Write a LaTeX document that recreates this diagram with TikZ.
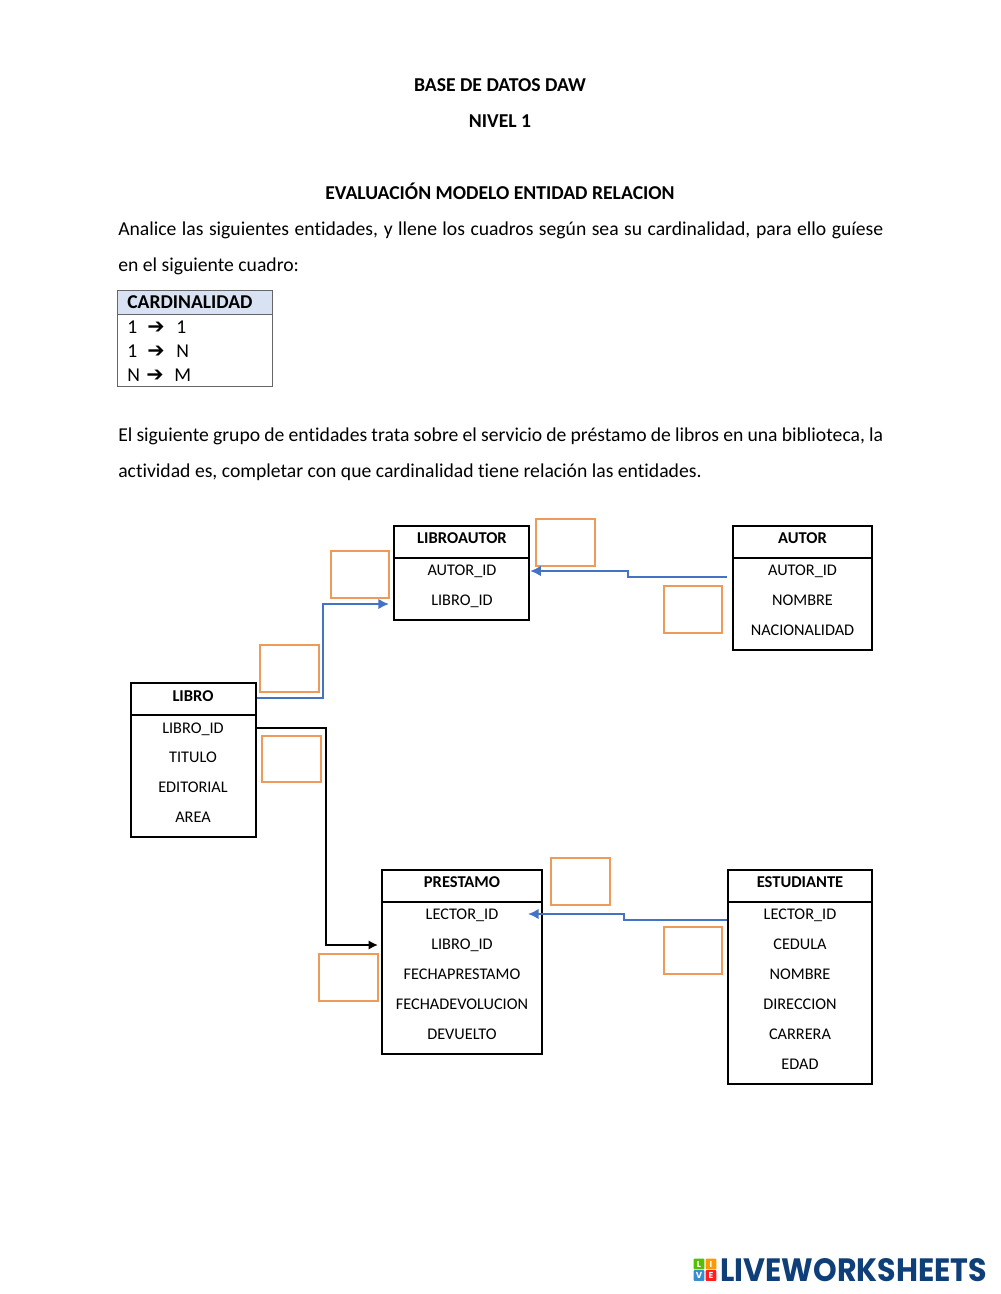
\documentclass[tikz,border=0pt]{standalone}
\usepackage{fontspec}
\usetikzlibrary{fit,arrows.meta,calc}
\setmainfont[Ligatures=NoCommon]{Carlito}
\newfontfamily\arrowfont{DejaVu Sans}
\newfontfamily\logofont{Poppins}
\definecolor{obox}{HTML}{ED9A5B}
\definecolor{blueline}{HTML}{4472C4}
\definecolor{headfill}{HTML}{D9E2F3}
\definecolor{logoblue}{HTML}{0F3F78}
\tikzset{
  x=0.75pt,y=-0.75pt,
  body/.style={font=\fontsize{14.75}{27}\selectfont,inner sep=0pt,anchor=base},
  bodyb/.style={body,font=\fontsize{14.75}{27}\selectfont\bfseries},
  para/.style={body,anchor=north west,text width=573.75pt,align=justify},
  ent/.style={draw=black,line width=1.7pt,inner sep=0pt},
  rowt/.style={font=\fontsize{12.2}{13}\selectfont,inner sep=0pt,anchor=base},
  headt/.style={rowt,font=\fontsize{12.4}{13}\selectfont\bfseries},
  answer/.style={draw=obox,line width=1pt,inner sep=0pt},
  bluearrow/.style={draw=blueline,line width=2pt,-{Latex[length=8pt,width=8pt]}},
  blackarrow/.style={draw=black,line width=1.8pt,-{Latex[length=7pt,width=7pt]}},
  cardt/.style={font=\fontsize{14.7}{16}\selectfont,inner sep=0pt,anchor=base},
  tile/.style={inner sep=0pt,minimum size=8.2pt,rounded corners=0.8pt,text=white,font=\fontsize{6.5}{6.5}\selectfont\bfseries\logofont},
}
\begin{document}
\begin{tikzpicture}
\useasboundingbox (0,0) rectangle (1000,1294);
% titles
\node[bodyb] (t1) at (500,92) {BASE DE DATOS DAW};
\node[bodyb] (t2) at (500,128) {NIVEL 1};
\node[bodyb] (t3) at (500,200) {EVALUACIÓN MODELO ENTIDAD RELACION};
\node[para] (p1) at (118,222) {Analice las siguientes entidades, y llene los cuadros según sea su cardinalidad, para ello guíese\linebreak en el siguiente cuadro:};
\node[para] (p2) at (118,428) {El siguiente grupo de entidades trata sobre el servicio de préstamo de libros en una biblioteca, la\linebreak actividad es, completar con que cardinalidad tiene relación las entidades.};
% cardinality table
\node[fit={(117.5,290)(272.5,314)},inner sep=0pt,fill=headfill,draw=black!60,line width=0.6pt] (cardh) {};
\node[fit={(117.5,314)(272.5,386.5)},inner sep=0pt,draw=black!60,line width=0.6pt] (cardb) {};
\node[cardt,font=\fontsize{14.7}{16}\selectfont\bfseries,anchor=base west] (ch) at (127,309) {CARDINALIDAD};
\foreach \y/\a/\b/\xa/\xb/\am/\nm in {333/1/1/127/176/156/ca,357/1/N/127/176/156/cb,381/N/M/127/174/155/cc}{
  \node[cardt,anchor=base west] (\nm l) at (\xa,\y) {\a};
  \node[cardt,anchor=base west] (\nm r) at (\xb,\y) {\b};
  \node[cardt,anchor=base,font=\fontsize{15.5}{16}\selectfont\arrowfont\bfseries] (\nm m) at (\am,\y) {➔};
}
% entities
\node[ent,fit={(394,526)(529,620)}] (libroautor) {};
\draw[line width=1.7pt] (libroautor.west |- 0,558) -- (libroautor.east |- 0,558);
\node[headt] (lah) at (462,543) {LIBROAUTOR};
\node[rowt] (la1) at (462,575.5) {AUTOR\_ID};
\node[rowt] (la2) at (462,605.5) {LIBRO\_ID};

\node[ent,fit={(733,526)(872,650)}] (autor) {};
\draw[line width=1.7pt] (autor.west |- 0,558) -- (autor.east |- 0,558);
\node[headt] (ah) at (802.5,543) {AUTOR};
\node[rowt] (a1) at (802.5,575.5) {AUTOR\_ID};
\node[rowt] (a2) at (802.5,605.5) {NOMBRE};
\node[rowt] (a3) at (802.5,635.5) {NACIONALIDAD};

\node[ent,fit={(131,683)(256,837)}] (libro) {};
\draw[line width=1.7pt] (libro.west |- 0,715) -- (libro.east |- 0,715);
\node[headt] (lh) at (193,701) {LIBRO};
\node[rowt] (l1) at (193,733.5) {LIBRO\_ID};
\node[rowt] (l2) at (193,762.5) {TITULO};
\node[rowt] (l3) at (193,792.5) {EDITORIAL};
\node[rowt] (l4) at (193,822.5) {AREA};

\node[ent,fit={(382,870)(542,1054)}] (prestamo) {};
\draw[line width=1.7pt] (prestamo.west |- 0,902) -- (prestamo.east |- 0,902);
\node[headt] (ph) at (462,887) {PRESTAMO};
\node[rowt] (p1r) at (462,919.5) {LECTOR\_ID};
\node[rowt] (p2r) at (462,949.5) {LIBRO\_ID};
\node[rowt] (p3r) at (462,979.5) {FECHAPRESTAMO};
\node[rowt] (p4r) at (462,1009.5) {FECHADEVOLUCION};
\node[rowt] (p5r) at (462,1039.5) {DEVUELTO};

\node[ent,fit={(728,870)(872,1084)}] (estudiante) {};
\draw[line width=1.7pt] (estudiante.west |- 0,902) -- (estudiante.east |- 0,902);
\node[headt] (eh) at (800,887) {ESTUDIANTE};
\node[rowt] (e1) at (800,919.5) {LECTOR\_ID};
\node[rowt] (e2) at (800,949.5) {CEDULA};
\node[rowt] (e3) at (800,979.5) {NOMBRE};
\node[rowt] (e4) at (800,1009.5) {DIRECCION};
\node[rowt] (e5) at (800,1039.5) {CARRERA};
\node[rowt] (e6) at (800,1069.5) {EDAD};
% answer boxes
\node[answer,fit={(536,519)(595,566)}] (b1) {};
\node[answer,fit={(331,551)(389,598)}] (b2) {};
\node[answer,fit={(664,586)(722,633)}] (b3) {};
\node[answer,fit={(260,645)(319,692)}] (b4) {};
\node[answer,fit={(262,736)(321,782)}] (b5) {};
\node[answer,fit={(551,858)(610,905)}] (b6) {};
\node[answer,fit={(664,927)(722,974)}] (b7) {};
\node[answer,fit={(319,954)(378,1001)}] (b8) {};
% connectors
\coordinate (c1s) at (libro.east |- 0,698);
\coordinate (c1e) at (389,604);
\draw[bluearrow] (c1s) -- (323,698) -- (323,604) -- (c1e);
\coordinate (c2s) at (727,577);
\coordinate (c2e) at (libroautor.east |- 0,571);
\draw[bluearrow] (c2s) -- (628,577) -- (628,571) -- (c2e);
\coordinate (c3s) at (libro.east |- 0,728);
\coordinate (c3e) at (378,945);
\draw[blackarrow] (c3s) -- (326,728) -- (326,945) -- (c3e);
\coordinate (c4s) at (estudiante.west |- 0,920);
\coordinate (c4e) at (528,914);
\draw[bluearrow] (c4s) -- (624,920) -- (624,914) -- (c4e);
% logo
\node[tile,fill=lime!60!green!75!black] (tl) at (699,1264) {L};
\node[tile,fill=orange!80!yellow] (ti) at (711,1264) {I};
\node[tile,fill=blueline!80!cyan] (tv) at (699,1275.5) {V};
\node[tile,fill=red!85!pink] (te) at (711,1275.5) {E};
\node[anchor=base west,inner sep=0pt,text=logoblue] (logo) at (720,1281) {\resizebox{200pt}{17.25pt}{\logofont\bfseries LIVEWORKSHEETS}};
\end{tikzpicture}
\end{document}
